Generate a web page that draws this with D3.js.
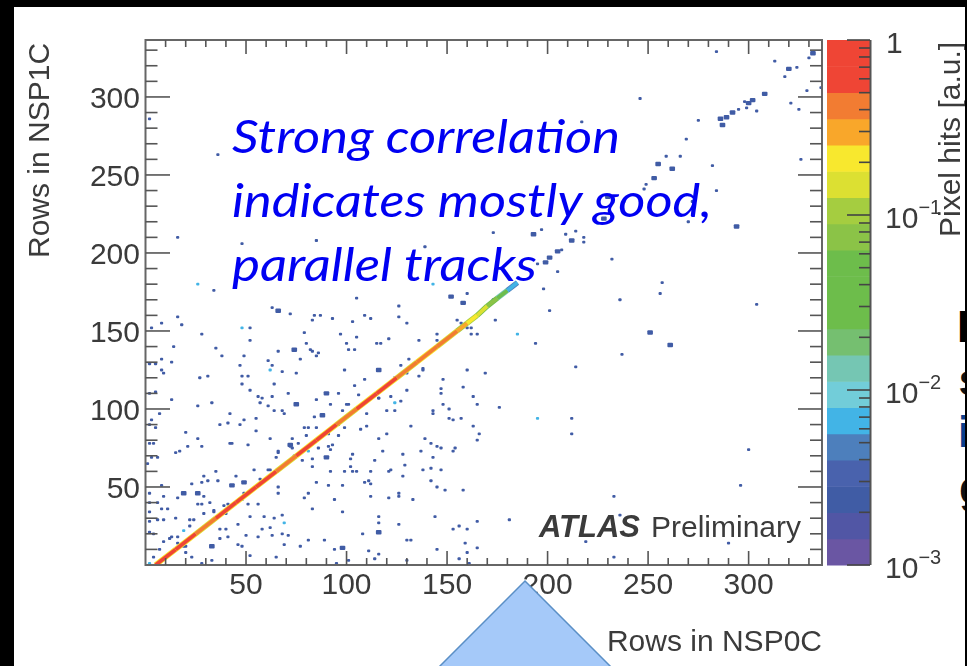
<!DOCTYPE html>
<html><head><meta charset="utf-8">
<style>html,body{margin:0;padding:0;background:#000;overflow:hidden}svg{display:block}
text{font-family:"Liberation Sans",Arial,sans-serif;fill:#3a3a3a}</style>
<script src="https://cdn.jsdelivr.net/npm/d3@7"></script></head><body>
<script>
const xMajorTicks=[50,100,150,200,250,300];
const xMinorTicks=[10,20,30,40,60,70,80,90,110,120,130,140,160,170,180,190,210,220,230,240,260,270,280,290,310,320,330];
const zMajorTicks=[0.001,0.01,0.1,1];
const zMinorTicks=[0.002,0.003,0.004,0.005,0.006,0.007,0.008,0.009,0.02,0.03,0.04,0.05,0.06,0.07,0.08,0.09,0.2,0.3,0.4,0.5,0.6,0.7,0.8,0.9];
const levelColors=['#6a56a3','#5156a5','#415ba5','#4862ad','#4d7fbc','#42b4e6','#72cdd9','#74c6b3','#75bf70','#6dbd4c','#6dbd4c','#6dbd4c','#8bc346','#a5cd40','#dce033','#f8e82d','#f9a72c','#f27b32','#ef4535','#ef4535'];
const diagonalX=[5,15,25,35,45,55,65,75,85,95,105,115,125,135,145,155,160,165,170,175,180,185];
const diagonalY=[0,10,20,30,40,50,60,70,80,90,100,110,120,130,140,150,155,160,166,171,176,181];
const diagonalCore=[0.7,0.8,0.6,0.5,0.7,0.55,0.8,0.5,0.7,0.8,0.5,0.8,0.6,0.5,0.5,0.42,0.3,0.22,0.13,0.07,0.03,0.007];
const diagonalEdge=[0.12,0.2,0.2,0.15,0.2,0.2,0.2,0.15,0.2,0.2,0.15,0.2,0.2,0.15,0.2,0.15,0.12,0.1,0.06,0.03,0.012,0.004];
const sparseHits=[[28,148],[14,140],[8,132],[13,130],[8,125],[9,123],[35,139],[38,134],[52,144],[49,134],[47,128],[48,121],[51,121],[48,116],[52,112],[27,120],[31,121],[13,106],[26,102],[33,104],[79,149],[80,142],[66,137],[82,138],[83,137],[86,136],[85,134],[77,132],[61,131],[63,128],[68,124],[75,123],[64,116],[71,110],[56,108],[58,107],[63,108],[57,104],[61,102],[64,99],[68,99],[69,97],[42,97],[37,90],[41,91],[47,90],[49,93],[55,94],[55,86],[20,85],[26,81],[21,76],[28,76],[17,73],[15,72],[42,78],[43,78],[51,77],[62,81],[97,148],[100,142],[105,146],[101,138],[104,138],[115,142],[117,142],[121,145],[136,144],[145,148],[145,144],[131,132],[99,125],[127,128],[138,126],[136,121],[148,119],[109,119],[104,115],[96,110],[106,109],[116,107],[85,106],[92,103],[101,103],[98,99],[110,97],[120,99],[124,99],[122,108],[127,105],[130,112],[147,113],[147,110],[148,103],[151,100],[143,99],[143,97],[151,94],[153,93],[157,94],[158,114],[160,125],[163,108],[165,103],[163,89],[166,84],[165,80],[162,148],[165,148],[84,95],[79,88],[81,88],[85,88],[80,83],[91,84],[96,90],[99,88],[96,83],[107,87],[110,89],[120,84],[116,81],[118,73],[132,89],[139,81],[142,78],[145,76],[147,75],[154,75],[153,73],[137,73],[143,69],[128,71],[114,67],[103,71],[102,68],[102,63],[99,60],[103,60],[105,60],[112,60],[121,60],[122,61],[129,64],[128,57],[138,61],[142,62],[147,61],[142,54],[145,50],[149,48],[158,48],[109,53],[111,54],[112,52],[98,51],[91,51],[85,53],[83,63],[92,60],[94,42],[79,43],[81,46],[83,36],[98,34],[112,44],[121,43],[126,46],[126,44],[133,42],[73,81],[76,78],[86,75],[91,76],[93,77],[92,74],[66,72],[65,69],[74,70],[78,67],[83,68],[61,61],[62,57],[66,61],[54,61],[57,55],[45,57],[35,60],[36,54],[29,57],[31,54],[23,52],[28,53],[66,46],[66,50],[29,44],[16,43],[9,44],[26,39],[32,40],[8,36],[11,36],[2,34],[15,30],[29,33],[22,29],[24,29],[34,35],[41,39],[39,38],[51,39],[56,39],[59,31],[52,31],[64,30],[68,32],[9,29],[22,25],[37,23],[40,23],[46,26],[58,23],[62,24],[63,19],[68,20],[71,19],[50,19],[56,18],[41,18],[37,17],[46,13],[48,12],[69,13],[77,12],[81,16],[89,16],[94,10],[108,20],[116,27],[116,31],[126,26],[130,16],[132,16],[144,31],[153,23],[156,25],[160,23],[165,28],[145,10],[160,8],[159,14],[165,11],[111,9],[116,7],[114,4],[101,3],[95,1],[156,4],[161,1],[130,3],[52,6],[65,5],[33,3],[28,1],[23,5],[20,12],[20,8],[13,18],[9,15],[16,18],[4,20],[2,21],[7,10],[4,5],[2,28],[6,29],[2,46],[8,51],[2,40],[6,40],[3,93],[2,90],[5,88],[2,78],[4,78],[3,69],[6,69],[1,65],[7,97],[2,110],[5,111],[2,129],[5,129],[19,12],[16,14],[12,17],[28,39],[34,34],[40,33],[49,46],[51,46],[48,42],[62,61],[66,73],[72,76],[73,75],[100,103],[116,107],[124,120],[130,123],[138,125],[2,286],[36,263],[16,210],[48,206],[85,208],[34,176],[63,165],[72,161],[84,160],[87,160],[83,157],[93,158],[103,156],[105,171],[126,166],[109,160],[112,158],[126,159],[130,155],[160,174],[149,184],[139,204],[100,184],[52,152],[16,159],[18,154],[8,155],[3,152],[155,157],[157,155],[160,152],[162,152],[284,329],[313,323],[330,325],[324,319],[318,313],[329,304],[336,306],[298,297],[299,293],[295,292],[275,285],[304,291],[321,296],[325,292],[246,299],[217,284],[269,273],[259,262],[266,262],[282,256],[326,260],[249,244],[248,241],[284,240],[238,233],[272,233],[270,220],[197,215],[214,214],[173,213],[209,212],[218,210],[218,207],[207,202],[232,196],[195,193],[205,188],[198,177],[257,181],[256,174],[236,170],[304,167],[201,163],[174,157],[176,172],[173,170],[194,142],[169,123],[237,135],[214,127],[176,101],[212,94],[212,84],[300,74],[296,51],[233,44],[181,29],[236,32],[219,15],[290,14],[233,5]];
const denseHits=[[88,96],[90,110],[75,103],[116,125],[72,77],[90,69],[66,163],[43,51],[49,53],[19,46],[26,46],[33,12],[98,11],[116,21],[152,172],[158,168],[230,236],[228,222],[255,257],[262,254],[253,248],[294,217],[205,201],[201,197],[261,141],[251,149],[320,318],[332,328],[286,286],[289,287],[287,282],[292,290],[300,296],[302,298],[308,302],[193,212],[212,208],[199,194],[74,138]];
const cyanHits=[[62,125],[124,104],[81,73],[69,27],[19,22],[2,1],[26,180],[143,180],[48,152],[225,219],[185,148],[195,94]];
const hitValue=0.0021, denseValue=0.0026, cyanValue=0.0075;

const W=967,H=666;
const x=d3.scaleLinear().domain([0,336.5]).range([145.5,822]);
const y=d3.scaleLinear().domain([0,336.5]).range([565,40]);
const z=d3.scaleLog().domain([0.001,1]).range([565,40]);
const level=d3.scaleQuantize().domain([-3,0]).range(levelColors);
const col=v=>level(Math.log10(v));

const svg=d3.select('body').append('svg').attr('width',W).attr('height',H);
const defs=svg.append('defs');
defs.append('filter').attr('id','softMarks').attr('x','-5%').attr('y','-5%').attr('width','110%').attr('height','110%').append('feGaussianBlur').attr('stdDeviation',0.6);
defs.append('filter').attr('id','softText').attr('x','-5%').attr('y','-5%').attr('width','110%').attr('height','110%').append('feGaussianBlur').attr('stdDeviation',0.45);
defs.append('clipPath').attr('id','plotClip').append('rect').attr('x',146).attr('y',41).attr('width',676).attr('height',524);
defs.append('clipPath').attr('id','edgeClip').append('rect').attr('x',14).attr('y',7).attr('width',951).attr('height',659);

svg.append('rect').attr('width',W).attr('height',H).attr('fill','#000');
svg.append('rect').attr('x',14).attr('y',7).attr('width',951).attr('height',659).attr('fill','#fff');

const root=svg.append('g').attr('clip-path','url(#edgeClip)');

// heat-map cells
const marks=root.append('g').attr('clip-path','url(#plotClip)').append('g').attr('filter','url(#softMarks)');
function cells(data,value,halfX,halfY){
  marks.append('g').selectAll('rect').data(data).join('rect')
    .attr('x',d=>x(d[0]-halfX))
    .attr('y',d=>y(d[1]+halfY))
    .attr('width',d=>x(d[0]+halfX)-x(d[0]-halfX))
    .attr('height',d=>y(d[1]-halfY)-y(d[1]+halfY))
    .attr('rx',1)
    .attr('fill',col(value));
}
cells(sparseHits,hitValue,0.8,0.9);
cells(denseHits,denseValue,1.4,1.4);
cells(cyanHits,cyanValue,0.8,0.9);

function ribbon(values,width){
  marks.append('g').selectAll('line').data(d3.pairs(d3.range(diagonalX.length))).join('line')
    .attr('x1',d=>x(diagonalX[d[0]])).attr('y1',d=>y(diagonalY[d[0]]))
    .attr('x2',d=>x(diagonalX[d[1]])).attr('y2',d=>y(diagonalY[d[1]]))
    .attr('stroke',d=>col(values[d[1]])).attr('stroke-width',width);
}
ribbon(diagonalEdge,5.4);
ribbon(diagonalCore,3.8);

// frame + axes
const axes=root.append('g').attr('filter','url(#softText)');
axes.append('rect').attr('x',x(0)).attr('y',y(336.5)).attr('width',x(336.5)-x(0)).attr('height',y(0)-y(336.5))
  .attr('fill','none').attr('stroke','#666').attr('stroke-width',2);
const tickStroke='#555';
function tickMarks(vals,fn){
  axes.append('g').selectAll('line').data(vals).join('line').each(function(d){
    const c=fn(d);d3.select(this).attr('x1',c[0]).attr('y1',c[1]).attr('x2',c[2]).attr('y2',c[3]);
  }).attr('stroke',tickStroke).attr('stroke-width',1.6);
}
tickMarks(xMajorTicks,d=>[x(d),565,x(d),551]);
tickMarks(xMinorTicks,d=>[x(d),565,x(d),558]);
tickMarks(xMajorTicks,d=>[x(d),40,x(d),54]);
tickMarks(xMinorTicks,d=>[x(d),40,x(d),47]);
tickMarks(xMajorTicks,d=>[145.5,y(d),170,y(d)]);
tickMarks(xMinorTicks,d=>[145.5,y(d),157.5,y(d)]);
tickMarks(xMajorTicks,d=>[822,y(d),798,y(d)]);
tickMarks(xMinorTicks,d=>[822,y(d),810,y(d)]);

axes.append('g').selectAll('text').data(xMajorTicks).join('text')
  .attr('x',d=>x(d)).attr('y',594).attr('text-anchor','middle').attr('font-size',30).text(d=>d);
axes.append('g').selectAll('text').data(xMajorTicks).join('text')
  .attr('x',140).attr('y',d=>y(d)+11).attr('text-anchor','end').attr('font-size',30).text(d=>d);

axes.append('text').attr('x',822).attr('y',651).attr('text-anchor','end').attr('font-size',30).text('Rows in NSP0C');
axes.append('text').attr('transform','translate(49,258) rotate(-90)').attr('font-size',30).text('Rows in NSP1C');
const atlas=axes.append('text').attr('x',539).attr('y',537).attr('font-size',30);
atlas.append('tspan').attr('font-weight','bold').attr('font-style','italic').attr('font-size',31).text('ATLAS');
atlas.append('tspan').attr('x',651).text('Preliminary');

// colour bar
const bar=root.append('g').attr('filter','url(#softText)');
bar.append('g').selectAll('rect').data(levelColors).join('rect')
  .attr('x',827).attr('width',43)
  .attr('y',(d,i)=>z(Math.pow(10,-3+(i+1)*0.15)))
  .attr('height',(d,i)=>z(Math.pow(10,-3+i*0.15))-z(Math.pow(10,-3+(i+1)*0.15))+0.5)
  .attr('fill',d=>d);
bar.append('line').attr('x1',870.5).attr('x2',870.5).attr('y1',40).attr('y2',565).attr('stroke','#555').attr('stroke-width',2);
bar.append('g').selectAll('line').data(zMajorTicks).join('line')
  .attr('x1',847).attr('x2',870).attr('y1',d=>z(d)).attr('y2',d=>z(d)).attr('stroke','#444').attr('stroke-width',1.6);
bar.append('g').selectAll('line').data(zMinorTicks).join('line')
  .attr('x1',859).attr('x2',870).attr('y1',d=>z(d)).attr('y2',d=>z(d)).attr('stroke','#444').attr('stroke-width',1.6);

const zLabels=bar.append('g').selectAll('text').data(zMajorTicks).join('text')
  .attr('x',d=>d===1?886:885).attr('y',d=>z(d)+12.5).attr('font-size',30);
zLabels.each(function(d){
  const t=d3.select(this);
  if(d===1){t.text('1');return;}
  t.append('tspan').text('10');
  t.append('tspan').attr('dy',-14).attr('font-size',20).text('\u2212'+Math.round(-Math.log10(d)));
});
bar.append('text').attr('transform','translate(960,237) rotate(-90)').attr('font-size',30).text('Pixel hits [a.u.]');

// cut-off text at the right edge of the slide
const cutOff=[['B',957,342,44,'#000'],['S',959,395,35,'#111'],['i',958,447,44,'#0b3f8c'],['g',959,503,44,'#111']];
root.append('g').selectAll('text').data(cutOff).join('text')
  .attr('x',d=>d[1]).attr('y',d=>d[2]).attr('font-size',d=>d[3]).attr('font-weight','bold')
  .style('fill',d=>d[4]).text(d=>d[0]);

// annotation
const note=[['Strong correlation',153,388],['indicates mostly good,',217,480],['parallel tracks',281,305]];
root.append('g').attr('filter','url(#softText)').selectAll('text').data(note).join('text')
  .attr('x',232).attr('y',d=>d[1]).attr('textLength',d=>d[2]).attr('lengthAdjust','spacingAndGlyphs')
  .style('font-family','Lato').style('font-style','italic').style('fill','#0000f2').attr('font-size',46).text(d=>d[0]);

// arrow
const arrow=[[525,581],[612,668],[438,668]];
root.append('path').attr('d',d3.line()(arrow)+'Z').attr('fill','#a5c9f9').attr('stroke','#5a8fc6').attr('stroke-width',1.5);
</script></body></html>
